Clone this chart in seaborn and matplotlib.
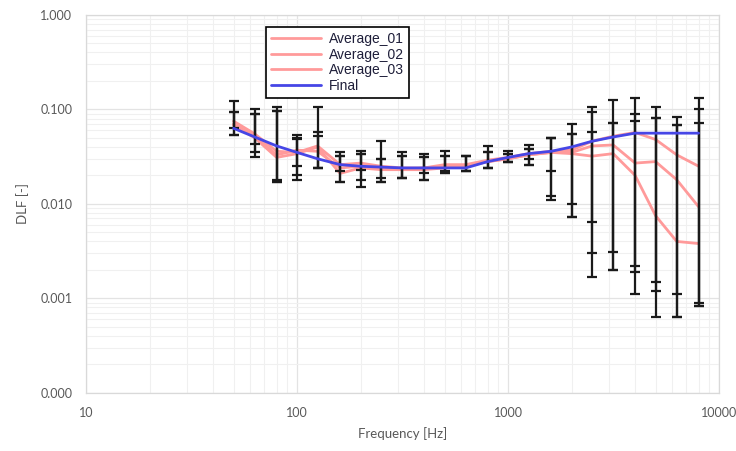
import numpy as np
import pandas as pd
import seaborn as sns
import matplotlib.pyplot as plt
from matplotlib.ticker import FixedLocator, FormatStrFormatter, NullFormatter, LogLocator

# third-octave band centre frequencies
freq = [50, 63, 80, 100, 125, 160, 200, 250, 315, 400, 500, 630, 800,
        1000, 1250, 1600, 2000, 2500, 3150, 4000, 5000, 6300, 8000]

avg_01 = [0.075, 0.055, 0.036, 0.035, 0.041, 0.026, 0.027, 0.025, 0.024, 0.024, 0.026, 0.026, 0.029,
          0.031, 0.034, 0.036, 0.037, 0.046, 0.052, 0.057, 0.048, 0.033, 0.025]
avg_02 = [0.070, 0.052, 0.033, 0.037, 0.036, 0.024, 0.025, 0.024, 0.023, 0.024, 0.025, 0.025, 0.028,
          0.030, 0.033, 0.035, 0.035, 0.041, 0.042, 0.027, 0.028, 0.018, 0.0093]
avg_03 = [0.068, 0.050, 0.031, 0.034, 0.040, 0.021, 0.024, 0.023, 0.023, 0.023, 0.024, 0.025, 0.028,
          0.030, 0.033, 0.035, 0.034, 0.032, 0.034, 0.020, 0.0075, 0.0040, 0.0038]
final = [0.063, 0.051, 0.041, 0.035, 0.030, 0.026, 0.025, 0.0245, 0.024, 0.024, 0.024, 0.024, 0.028,
         0.031, 0.034, 0.036, 0.040, 0.046, 0.051, 0.056, 0.056, 0.056, 0.056]

# error bar limits (upper / lower) for each average
hi_01 = [0.122, 0.100, 0.107, 0.053, 0.105, 0.035, 0.036, 0.046, 0.035, 0.034, 0.036, 0.032, 0.041,
         0.036, 0.042, 0.050, 0.070, 0.105, 0.127, 0.131, 0.105, 0.084, 0.131]
hi_02 = [0.093, 0.089, 0.095, 0.048, 0.057, 0.032, 0.034, 0.030, 0.032, 0.031, 0.032, 0.032, 0.035,
         0.034, 0.038, 0.050, 0.055, 0.093, 0.071, 0.089, 0.082, 0.069, 0.102]
hi_03 = [0.093, 0.089, 0.095, 0.050, 0.052, 0.032, 0.034, 0.030, 0.032, 0.031, 0.032, 0.032, 0.035,
         0.034, 0.038, 0.050, 0.055, 0.057, 0.071, 0.075, 0.082, 0.069, 0.071]
lo_01 = [0.063, 0.043, 0.017, 0.025, 0.024, 0.022, 0.023, 0.019, 0.019, 0.021, 0.022, 0.022, 0.024,
         0.028, 0.030, 0.022, 0.0100, 0.0065, 0.0031, 0.0022, 0.0015, 0.0011, 0.00089]
lo_02 = [0.053, 0.035, 0.018, 0.020, 0.024, 0.017, 0.018, 0.017, 0.019, 0.018, 0.021, 0.022, 0.024,
         0.028, 0.026, 0.012, 0.0073, 0.0030, 0.0020, 0.0019, 0.0012, 0.00063, 0.00083]
lo_03 = [0.053, 0.031, 0.017, 0.018, 0.024, 0.017, 0.015, 0.017, 0.019, 0.018, 0.021, 0.022, 0.024,
         0.028, 0.026, 0.011, 0.0073, 0.0017, 0.0020, 0.0011, 0.00063, 0.00063, 0.00083]

labels = ["Average_01", "Average_02", "Average_03", "Final"]
colors = ["#ff9a9a", "#ff9a9a", "#ff9a9a", "#4646e6"]

sns.set_theme(style="white")
plt.rcParams['font.family'] = ['Lato', 'DejaVu Sans']

df = pd.DataFrame({
  "freq": freq * 4,
  "dlf": avg_01 + avg_02 + avg_03 + final,
  "series": sum([[l] * len(freq) for l in labels], []),
})

fig = plt.figure(figsize=(7.36, 4.51), dpi=100)
ax = fig.add_axes([0.117, 0.129, 0.86, 0.838])

sns.lineplot(data=df[df.series != "Final"], x="freq", y="dlf", hue="series",
             palette=colors[:3], linewidth=2, ax=ax, legend=False, zorder=2)

for mean, hi, lo in [(avg_01, hi_01, lo_01), (avg_02, hi_02, lo_02), (avg_03, hi_03, lo_03)]:
  m = np.array(mean)
  ax.errorbar(freq, m, yerr=[m - np.array(lo), np.array(hi) - m], fmt="none",
              ecolor="#1a1a1a", elinewidth=1.6, capsize=3.5, capthick=1.6, zorder=3)

sns.lineplot(data=df[df.series == "Final"], x="freq", y="dlf", color=colors[3],
             linewidth=2, ax=ax, legend=False, zorder=4)

ax.set_xscale("log")
ax.set_yscale("log")
ax.set_xlim(10, 10000)
ax.set_ylim(1e-4, 1)

ax.yaxis.set_major_locator(FixedLocator([1e-4, 1e-3, 1e-2, 1e-1, 1]))
ax.yaxis.set_major_formatter(FormatStrFormatter("%.3f"))
ax.yaxis.set_minor_locator(LogLocator(base=10, subs=np.arange(2, 10)))
ax.yaxis.set_minor_formatter(NullFormatter())
ax.xaxis.set_major_locator(FixedLocator([10, 100, 1000, 10000]))
ax.xaxis.set_major_formatter(FormatStrFormatter("%d"))
ax.xaxis.set_minor_locator(LogLocator(base=10, subs=np.arange(2, 10)))
ax.xaxis.set_minor_formatter(NullFormatter())

ax.grid(True, which="major", color="#e3e3e3", linewidth=0.9)
ax.grid(True, which="minor", color="#f0f0f0", linewidth=0.8)
ax.set_axisbelow(True)
ax.tick_params(axis="both", which="both", length=0, labelsize=9, colors="#595959", pad=10)
for s in ax.spines.values():
  s.set_color("#d9d9d9")
  s.set_linewidth(0.9)

ax.set_xlabel("Frequency [Hz]", fontsize=9.5, color="#595959", labelpad=6)
ax.set_ylabel("DLF [-]", fontsize=9.5, color="#595959", labelpad=8)

handles = [plt.Line2D([], [], color=c, linewidth=2) for c in colors]
leg = ax.legend(handles, labels, loc="upper left", bbox_to_anchor=(0.284, 0.968),
                borderaxespad=0, frameon=True, fancybox=False, framealpha=1, edgecolor="black",
                prop={"family": "Liberation Sans", "size": 10}, labelspacing=0.12,
                handlelength=3.6, handletextpad=0.6, borderpad=0.35)
leg.get_frame().set_linewidth(1.2)
for t in leg.get_texts():
  t.set_color("#1f1f3a")

plt.savefig("out.png", dpi=100)
